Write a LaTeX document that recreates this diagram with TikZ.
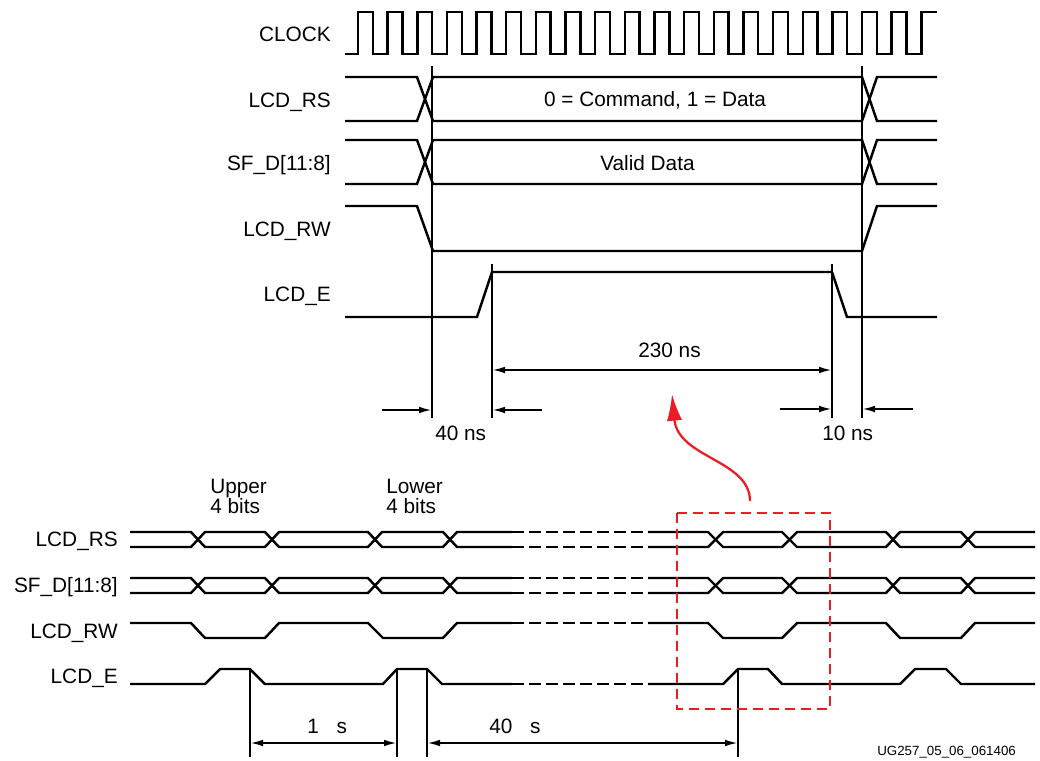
\documentclass[tikz,border=0pt]{standalone}
\usepackage{fontspec}
\setmainfont{Liberation Sans}
\usetikzlibrary{arrows.meta}
\definecolor{xred}{RGB}{237,28,36}
\begin{document}
\begin{tikzpicture}[x=0.75pt,y=-0.75pt,
  wave/.style={line width=1.85pt, line join=miter},
  dashwave/.style={line width=1.85pt, dash pattern=on 9pt off 3.75pt},
  refline/.style={line width=1.8pt},
  dimboth/.style={line width=0.9pt, {Latex[length=9pt,width=5pt]}-{Latex[length=9pt,width=5pt]}},
  dimone/.style={line width=0.9pt, -{Latex[length=9pt,width=5pt]}},
  lbl/.style={font=\fontsize{15.6}{15}\selectfont, inner sep=0pt},
  tiny/.style={font=\fontsize{10}{12}\selectfont, inner sep=0pt},
  zoombox/.style={draw=xred, line width=1.9pt, dash pattern=on 7.5pt off 4.5pt},
  zoomarrow/.style={draw=xred, line width=1.7pt, -{Latex[length=20pt,width=11.5pt]}, xred}
]
\useasboundingbox (0,0) rectangle (1040,761);

% ---------------- top: labels ----------------
\node[lbl, anchor=base east] (clk) at (331,41) {CLOCK};
\node[lbl, anchor=base east] (lrs) at (331,107) {LCD\_RS};
\node[lbl, anchor=base east] (sfd) at (331,170) {SF\_D[11:8]};
\node[lbl, anchor=base east] (lrw) at (331,236) {LCD\_RW};
\node[lbl, anchor=base east] (le) at (331,301) {LCD\_E};

% clock
\draw[wave] (345,54) foreach \i in {0,...,18}{
   -- ({358+29.65*\i},54) -- ({358+29.65*\i},12) -- ({372.8+29.65*\i},12) -- ({372.8+29.65*\i},54) }
   -- (921.4,54) -- (921.4,12) -- (937,12);

% LCD_RS bus
\draw[wave] (345,77) -- (417,77) -- (433,121) -- (862,121) -- (877,77) -- (937,77);
\draw[wave] (345,121) -- (417,121) -- (433,77) -- (862,77) -- (877,121) -- (937,121);
\node[lbl, anchor=base] (cmd) at (655,106) {0 = Command, 1 = Data};

% SF_D bus
\draw[wave] (345,140) -- (417,140) -- (433,184) -- (862,184) -- (877,140) -- (937,140);
\draw[wave] (345,184) -- (417,184) -- (433,140) -- (862,140) -- (877,184) -- (937,184);
\node[lbl, anchor=base west] (vd) at (600,170) {Valid Data};

% LCD_RW
\draw[wave] (345,206) -- (417,206) -- (433,251) -- (862,251) -- (877,206) -- (937,206);
% LCD_E
\draw[wave] (345,317) -- (477,317) -- (492,272) -- (832,272) -- (847,317) -- (937,317);

% reference lines
\coordinate (a1) at (432,66);  \coordinate (a2) at (432,418);
\coordinate (b1) at (492,264); \coordinate (b2) at (492,418);
\coordinate (c1) at (832,264); \coordinate (c2) at (832,418);
\coordinate (d1) at (862,66);  \coordinate (d2) at (862,418);
\draw[refline] (a1) -- (a2);
\draw[refline] (b1) -- (b2);
\draw[refline] (c1) -- (c2);
\draw[refline] (d1) -- (d2);

% dimensions
\coordinate (t230l) at (493,370); \coordinate (t230r) at (831,370);
\draw[dimboth] (t230l) -- (t230r);
\node[lbl, anchor=base west] (l230) at (638,357) {230 ns};

\coordinate (f40a) at (382,410); \coordinate (f40b) at (431,410);
\coordinate (f40c) at (542,410); \coordinate (f40d) at (493,410);
\draw[dimone] (f40a) -- (f40b);
\draw[dimone] (f40c) -- (f40d);
\node[lbl, anchor=base west] (l40) at (435,440) {40 ns};

\coordinate (f10a) at (780,409); \coordinate (f10b) at (831,409);
\coordinate (f10c) at (913,409); \coordinate (f10d) at (863,409);
\draw[dimone] (f10a) -- (f10b);
\draw[dimone] (f10c) -- (f10d);
\node[lbl, anchor=base west] (l10) at (822,440) {10 ns};

% ---------------- bottom ----------------
\node[lbl, anchor=base east] (brs) at (118,546) {LCD\_RS};
\node[lbl, anchor=base east] (bsf) at (118,592) {SF\_D[11:8]};
\node[lbl, anchor=base east] (brw) at (118,638) {LCD\_RW};
\node[lbl, anchor=base east] (be) at (118,683) {LCD\_E};
\node[lbl, anchor=base west] (up1) at (210,493) {Upper};
\node[lbl, anchor=base west] (up2) at (210,513) {4 bits};
\node[lbl, anchor=base west] (lo1) at (386,493) {Lower};
\node[lbl, anchor=base west] (lo2) at (386,513) {4 bits};

% buses
\foreach \ya/\yb in {532/547, 578/593}{
  \draw[wave] (130,\ya) -- (191,\ya) -- (205,\yb) -- (265,\yb) -- (279,\ya) -- (368,\ya) -- (382,\yb)
     -- (443,\yb) -- (457,\ya) -- (512,\ya);
  \draw[wave] (130,\yb) -- (191,\yb) -- (205,\ya) -- (265,\ya) -- (279,\yb) -- (368,\yb) -- (382,\ya)
     -- (443,\ya) -- (457,\yb) -- (512,\yb);
  \draw[dashwave] (512,\ya) -- (648,\ya);
  \draw[dashwave] (512,\yb) -- (648,\yb);
  \draw[wave] (648,\ya) -- (708,\ya) -- (723,\yb) -- (782,\yb) -- (797,\ya) -- (886,\ya) -- (900,\yb)
     -- (961,\yb) -- (975,\ya) -- (1035,\ya);
  \draw[wave] (648,\yb) -- (708,\yb) -- (723,\ya) -- (782,\ya) -- (797,\yb) -- (886,\yb) -- (900,\ya)
     -- (961,\ya) -- (975,\yb) -- (1035,\yb);
}
% LCD_RW
\draw[wave] (130,623) -- (191,623) -- (205,638) -- (265,638) -- (279,623) -- (368,623) -- (383,638)
   -- (443,638) -- (457,623) -- (512,623);
\draw[dashwave] (512,623) -- (648,623);
\draw[wave] (648,623) -- (708,623) -- (723,638) -- (782,638) -- (797,623) -- (886,623) -- (900,638)
   -- (961,638) -- (975,623) -- (1035,623);
% LCD_E
\draw[wave] (130,684) -- (205,684) -- (220,669) -- (250,669) -- (265,684) -- (383,684) -- (397,669)
   -- (427,669) -- (442,684) -- (512,684);
\draw[dashwave] (512,684) -- (648,684);
\draw[wave] (648,684) -- (723,684) -- (738,669) -- (768,669) -- (782,684) -- (900,684) -- (915,669)
   -- (946,669) -- (961,684) -- (1035,684);

% bottom reference lines
\coordinate (e1) at (250,669); \coordinate (e2) at (250,757);
\coordinate (g1) at (397,669); \coordinate (g2) at (397,757);
\coordinate (h1) at (427,669); \coordinate (h2) at (427,757);
\coordinate (k1) at (738,669); \coordinate (k2) at (738,757);
\draw[refline] (e1) -- (e2);
\draw[refline] (g1) -- (g2);
\draw[refline] (h1) -- (h2);
\draw[refline] (k1) -- (k2);

\coordinate (m1) at (251,743); \coordinate (m2) at (396,743);
\coordinate (n1) at (428,743); \coordinate (n2) at (737,743);
\draw[dimboth] (m1) -- (m2);
\draw[dimboth] (n1) -- (n2);
\node[lbl, anchor=base west] (l1us) at (307,733) {1 \phantom{µ}s};
\node[lbl, anchor=base west] (l40us) at (489,733) {40 \phantom{µ}s};

% red zoom box and arrow
\draw[zoombox] (677,513) rectangle (830,709);
\coordinate (za) at (750,501);
\coordinate (zb) at (672,394);
\draw[zoomarrow] (za) .. controls (750,460) and (678,458) .. (zb);

\node[tiny, anchor=base west] (ug) at (877,755) {UG257\_05\_06\_061406};
\end{tikzpicture}
\end{document}
